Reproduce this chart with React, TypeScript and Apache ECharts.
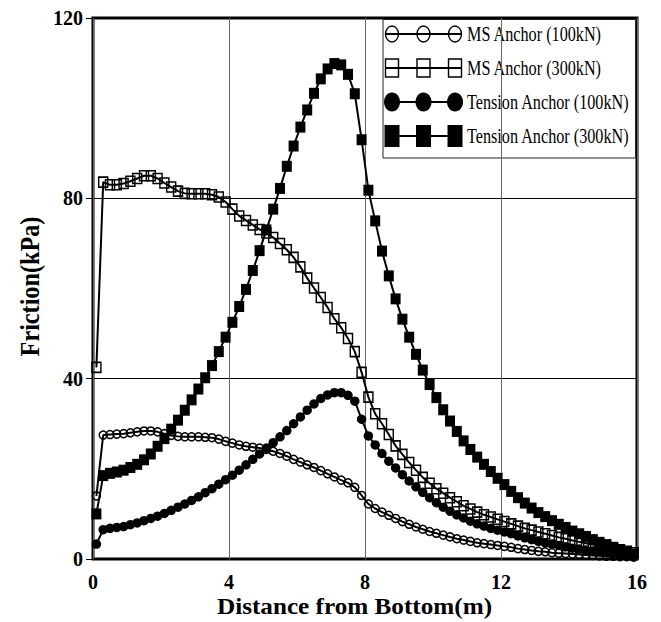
import React, { useEffect, useRef } from "react";
import * as echarts from "echarts";

// distance from bottom (m) at which the friction was sampled
const distance = Array.from({ length: 80 }, (_, i) => Math.round((0.1 + 0.2 * i) * 10) / 10);

const msAnchor100 = [
  14, 27.5, 27.6, 27.7, 27.8, 28, 28.2, 28.4, 28.4, 28.2,
  27.8, 27.4, 27.2, 27.1, 27.1, 27.1, 27, 26.9, 26.6, 26.1,
  25.7, 25.3, 25, 24.8, 24.6, 24.3, 23.9, 23.4, 22.8, 22.1,
  21.5, 20.9, 20.3, 19.6, 18.9, 18.2, 17.5, 16.9, 15.9, 14.1,
  12.2, 11.2, 10.4, 9.7, 9, 8.3, 7.7, 7.1, 6.6, 6.1,
  5.7, 5.3, 4.9, 4.5, 4.2, 3.9, 3.6, 3.4, 3.2, 3,
  2.8, 2.6, 2.3, 2.1, 1.9, 1.7, 1.6, 1.4, 1.3, 1.2,
  1.1, 1, 0.9, 0.8, 0.7, 0.6, 0.6, 0.5, 0.5, 0.4,
];

const msAnchor300 = [
  42.5, 83.6, 83, 83, 83.3, 83.8, 84.4, 85, 85, 84.4,
  83.4, 82.5, 81.6, 81.1, 81, 81, 81, 80.8, 80.3, 79.2,
  77.6, 76.1, 75.1, 74.1, 73.1, 72.3, 71.3, 70, 68.6, 66.9,
  64.8, 62.3, 60.1, 58, 55.8, 53.3, 51.3, 48.9, 46, 41.4,
  35.9, 32.2, 30, 27.6, 25.1, 23.2, 21.4, 19.7, 18.1, 16.8,
  15.6, 14.6, 13.6, 12.7, 11.8, 11.1, 10.4, 9.8, 9.3, 8.8,
  8.3, 7.8, 7.3, 6.8, 6.4, 6, 5.6, 5.2, 4.8, 4.5,
  4.1, 3.8, 3.5, 3.2, 2.9, 2.6, 2.3, 2, 1.7, 1.4,
];

const tensionAnchor100 = [
  3.3, 6.5, 6.8, 7, 7.2, 7.6, 8, 8.5, 9, 9.5,
  10.1, 10.8, 11.5, 12.2, 13, 13.8, 14.7, 15.6, 16.6, 17.6,
  18.6, 19.7, 20.9, 22.1, 23.3, 24.6, 25.8, 27.1, 28.5, 30,
  31.5, 33, 34.4, 35.6, 36.4, 36.9, 36.9, 36.3, 35, 31,
  27.3, 25.3, 23.4, 21.7, 20.2, 18.7, 17.3, 16, 14.8, 13.6,
  12.5, 11.5, 10.6, 9.8, 9.1, 8.4, 7.8, 7.3, 6.8, 6.4,
  6, 5.6, 5.1, 4.7, 4.3, 3.9, 3.6, 3.3, 3, 2.7,
  2.4, 2.2, 2, 1.8, 1.6, 1.4, 1.2, 1, 0.8, 0.6,
];

const tensionAnchor300 = [
  10, 18.5, 19, 19.3, 19.7, 20.3, 21, 22, 23.3, 25,
  26.7, 28.8, 30.8, 33, 35.3, 37.7, 40.2, 42.9, 46, 49.2,
  52.5, 56, 59.8, 64, 68.4, 73, 77.6, 82.2, 87.1, 91.6,
  95.8, 99.6, 103.3, 106.5, 108.7, 109.9, 109.6, 107.5, 103.2, 93,
  81.8, 75, 68.3, 62.8, 57.7, 53.2, 49.2, 45.4, 41.9, 38.7,
  35.8, 33.1, 30.6, 28.3, 26.2, 24.3, 22.6, 21, 19.4, 17.9,
  16.5, 15, 13.6, 12.4, 11.3, 10.3, 9.4, 8.5, 7.7, 7,
  6.2, 5.6, 5, 4.3, 3.7, 3.2, 2.6, 2.1, 1.6, 1.1,
];

const seriesNames = [
  "MS Anchor (100kN)",
  "MS Anchor (300kN)",
  "Tension Anchor (100kN)",
  "Tension Anchor (300kN)",
];
const xTicks = [0, 4, 8, 12, 16];
const yTicks = [0, 40, 80, 120];
const xAxisTitle = "Distance from Bottom(m)";
const yAxisTitle = "Friction(kPa)";

const SERIF = '"Liberation Serif", "Times New Roman", serif';

function pairs(values: number[]) {
  return values.map((v, i) => [distance[i], v]);
}

export default function App() {
  const ref = useRef<HTMLDivElement>(null);

  useEffect(() => {
    if (!ref.current) return;
    const chart = echarts.init(ref.current, undefined, { renderer: "svg" });

    const seriesValues = [msAnchor100, msAnchor300, tensionAnchor100, tensionAnchor300];
    const markerDefs = [
      { symbol: "circle", size: [8, 8], filled: false },
      { symbol: "rect", size: [9, 10], filled: false },
      { symbol: "circle", size: [9.5, 9.5], filled: true },
      { symbol: "rect", size: [10, 11], filled: true },
    ];

    const series = seriesValues.map((vals, k) => ({
      type: "line",
      name: seriesNames[k],
      data: pairs(vals),
      symbol: markerDefs[k].symbol,
      symbolSize: markerDefs[k].size,
      showSymbol: true,
      itemStyle: {
        color: markerDefs[k].filled ? "#000" : "rgba(0,0,0,0)",
        borderColor: "#000",
        borderWidth: markerDefs[k].filled ? 0 : 1.5,
      },
      lineStyle: { color: "#000", width: 2 },
      z: 2 + k,
    }));

    // custom legend drawn to match the three-marker samples
    const legendLeft = 383;
    const legendTop = 19.5;
    const legendW = 252.5;
    const legendH = 138.5;
    const rowY = [34, 68, 102, 136];
    const markerX = [392, 423.5, 455];
    const legendShapes: any[] = [
      { w: 13, h: 16, kind: "ellipse", filled: false },
      { w: 13, h: 18, kind: "rect", filled: false },
      { w: 16, h: 19, kind: "ellipse", filled: true },
      { w: 15, h: 22, kind: "rect", filled: true },
    ];
    const legendChildren: any[] = [
      {
        type: "rect",
        shape: { x: legendLeft, y: legendTop, width: legendW, height: legendH },
        style: { fill: "#fff", stroke: "#222", lineWidth: 1 },
      },
    ];
    seriesNames.forEach((name, k) => {
      const y = rowY[k];
      legendChildren.push({
        type: "line",
        shape: { x1: markerX[0], y1: y, x2: markerX[2], y2: y },
        style: { stroke: "#000", lineWidth: 2 },
      });
      const s = legendShapes[k];
      markerX.forEach((mx) => {
        const style = s.filled
          ? { fill: "#000", stroke: "#000", lineWidth: 0 }
          : { fill: "#fff", stroke: "#000", lineWidth: 1.4 };
        if (s.kind === "ellipse") {
          legendChildren.push({
            type: "ellipse",
            shape: { cx: mx, cy: y, rx: s.w / 2, ry: s.h / 2 },
            style,
          });
        } else {
          legendChildren.push({
            type: "rect",
            shape: { x: mx - s.w / 2, y: y - s.h / 2, width: s.w, height: s.h },
            style,
          });
        }
        if (!s.filled) {
          legendChildren.push({
            type: "line",
            shape: { x1: mx - s.w / 2, y1: y, x2: mx + s.w / 2, y2: y },
            style: { stroke: "#000", lineWidth: 2 },
          });
        }
      });
      legendChildren.push({
        type: "text",
        x: 467,
        y: y,
        scaleX: 0.81,
        style: {
          text: name,
          fontSize: 20,
          fontFamily: SERIF,
          fill: "#000",
          align: "left",
          verticalAlign: "middle",
        },
      });
    });

    const option: any = {
      animation: false,
      backgroundColor: "#fff",
      grid: {
        left: 93,
        right: 24,
        top: 18,
        bottom: 63,
        show: true,
        borderColor: "#000",
        borderWidth: 3,
        backgroundColor: "transparent",
      },
      xAxis: {
        type: "value",
        min: xTicks[0],
        max: xTicks[xTicks.length - 1],
        interval: xTicks[1] - xTicks[0],
        axisLine: { show: false },
        axisTick: { show: false },
        axisLabel: {
          margin: 13,
          fontSize: 20,
          fontWeight: "bold",
          fontFamily: SERIF,
          color: "#000",
        },
        splitLine: { show: true, lineStyle: { color: "#666", width: 1 } },
      },
      yAxis: {
        type: "value",
        min: yTicks[0],
        max: yTicks[yTicks.length - 1],
        interval: yTicks[1] - yTicks[0],
        axisLine: { show: false },
        axisTick: { show: true, length: 7, lineStyle: { color: "#000", width: 1 } },
        axisLabel: {
          margin: 10,
          fontSize: 20,
          fontWeight: "bold",
          fontFamily: SERIF,
          color: "#000",
        },
        splitLine: { show: true, lineStyle: { color: "#000", width: 1 } },
      },
      series,
      graphic: [
        { type: "group", z: 100, children: legendChildren },
        {
          type: "text",
          z: 100,
          x: 354.5,
          y: 606,
          scaleX: 1.05,
          style: {
            text: xAxisTitle,
            fontSize: 24,
            fontWeight: "bold",
            fontFamily: SERIF,
            fill: "#000",
            align: "center",
            verticalAlign: "middle",
          },
        },
        {
          type: "text",
          z: 100,
          x: 30,
          y: 286.5,
          rotation: Math.PI / 2,
          scaleX: 0.865,
          style: {
            text: yAxisTitle,
            fontSize: 28,
            fontWeight: "bold",
            fontFamily: SERIF,
            fill: "#000",
            align: "center",
            verticalAlign: "middle",
          },
        },
      ],
    };

    chart.setOption(option);
    return () => chart.dispose();
  }, []);

  return (
    <div
      ref={ref}
      style={{ position: "fixed", left: 0, top: 0, width: 661, height: 622, background: "#fff" }}
    />
  );
}
